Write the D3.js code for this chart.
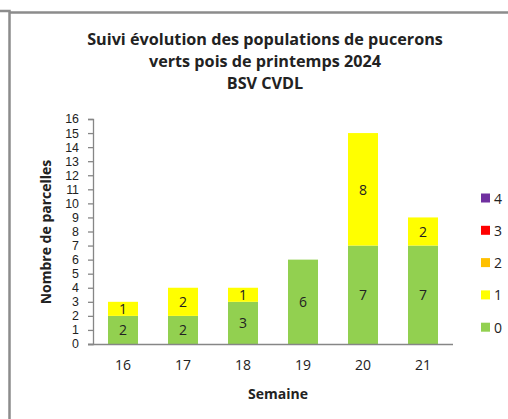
<!DOCTYPE html>
<html lang="fr">
<head>
<meta charset="UTF-8">
<title>Suivi pucerons verts pois 2024</title>
<script src="https://cdn.jsdelivr.net/npm/d3@7"></script>
<style>
  body { margin: 0; background: #fff; }
  text { font-family: "Open Sans", "Noto Sans", sans-serif; fill: #222; }
</style>
</head>
<body>
<div id="chart"></div>
<script>
// semaines et nombre de parcelles par classe
const semaines = ["16", "17", "18", "19", "20", "21"];
const classes = ["0", "1", "2", "3", "4"];
const classe0 = [2, 2, 3, 6, 7, 7];
const classe1 = [1, 2, 1, 0, 8, 2];
const classe2 = [0, 0, 0, 0, 0, 0];
const classe3 = [0, 0, 0, 0, 0, 0];
const classe4 = [0, 0, 0, 0, 0, 0];
const couleurs = ["#92d050", "#ffff00", "#ffc000", "#ff0000", "#7030a0"];
const yTicks = d3.range(0, 17);

const width = 508, height = 419;
const margin = { left: 93, right: 55, top: 119, bottom: 75 };

const svg = d3.select("#chart").append("svg")
    .attr("width", width)
    .attr("height", height);

// cadre gris
svg.append("path")
    .attr("d", "M0,11 H9.5 V419 M9.5,12.5 H508")
    .attr("fill", "none")
    .attr("stroke", "#8c8c8c")
    .attr("stroke-width", 2.5);

const rows = semaines.map((s, i) => ({
    semaine: s,
    "0": classe0[i], "1": classe1[i], "2": classe2[i], "3": classe3[i], "4": classe4[i]
}));
const stacked = d3.stack().keys(classes)(rows);

const x = d3.scaleBand()
    .domain(semaines)
    .range([margin.left, width - margin.right])
    .paddingInner(0.5)
    .paddingOuter(0.25);

const y = d3.scaleLinear()
    .domain([0, 16])
    .range([height - margin.bottom, margin.top]);

// barres
svg.append("g").selectAll("g")
    .data(stacked)
    .join("g")
    .attr("fill", (d, i) => couleurs[i])
    .selectAll("rect")
    .data(d => d)
    .join("rect")
    .attr("x", d => x(d.data.semaine))
    .attr("y", d => y(d[1]))
    .attr("width", x.bandwidth())
    .attr("height", d => y(d[0]) - y(d[1]));

// etiquettes dans les segments
stacked.forEach(serie => {
    svg.append("g").selectAll("text")
        .data(serie.filter(d => d[1] - d[0] > 0))
        .join("text")
        .attr("x", d => x(d.data.semaine) + x.bandwidth() / 2)
        .attr("y", d => (y(d[0]) + y(d[1])) / 2)
        .attr("text-anchor", "middle")
        .attr("dominant-baseline", "central")
        .attr("font-size", 14)
        .text(d => d[1] - d[0]);
});

// axe Y
const yAxis = svg.append("g")
    .attr("transform", `translate(${margin.left},0)`)
    .call(d3.axisLeft(y).tickValues(yTicks).tickSize(5).tickPadding(9).tickFormat(d3.format("d")));
yAxis.selectAll("line, path").attr("stroke", "#868686").attr("stroke-width", 1.3);
yAxis.selectAll("text").attr("font-size", 12.4).attr("fill", "#222")
    .style("font-family", "'Liberation Sans', Arial, sans-serif");

// axe X
const xAxis = svg.append("g")
    .attr("transform", `translate(0,${height - margin.bottom})`)
    .call(d3.axisBottom(x).tickSize(0).tickPadding(16));
xAxis.select("path").attr("stroke", "#868686").attr("stroke-width", 1.3)
    .attr("d", `M${margin.left - 5},0.5H${width - margin.right}`);
xAxis.selectAll("text").attr("font-size", 14).attr("fill", "#222");

// titres
const titre = ["Suivi évolution des populations de pucerons", "verts pois de printemps 2024", "BSV CVDL"];
svg.append("g").selectAll("text")
    .data(titre)
    .join("text")
    .attr("x", 265)
    .attr("y", (d, i) => 45 + i * 22)
    .attr("text-anchor", "middle")
    .attr("font-size", 16.2)
    .attr("font-weight", "bold")
    .text(d => d);

svg.append("text")
    .attr("x", (margin.left + width - margin.right) / 2 + 5)
    .attr("y", 399)
    .attr("text-anchor", "middle")
    .attr("font-size", 14)
    .attr("font-weight", "bold")
    .text("Semaine");

svg.append("text")
    .attr("transform", "translate(51,232) rotate(-90)")
    .attr("text-anchor", "middle")
    .attr("font-size", 14)
    .attr("font-weight", "bold")
    .text("Nombre de parcelles");

// legende (ordre inverse)
const legende = svg.append("g").selectAll("g")
    .data(classes.slice().reverse())
    .join("g")
    .attr("transform", (d, i) => `translate(481,${198 + i * 32.3})`);
legende.append("rect")
    .attr("x", 0).attr("y", -4.5)
    .attr("width", 9).attr("height", 9)
    .attr("fill", d => couleurs[classes.indexOf(d)]);
legende.append("text")
    .attr("x", 13)
    .attr("dominant-baseline", "central")
    .attr("font-size", 14)
    .text(d => d);
</script>
</body>
</html>
